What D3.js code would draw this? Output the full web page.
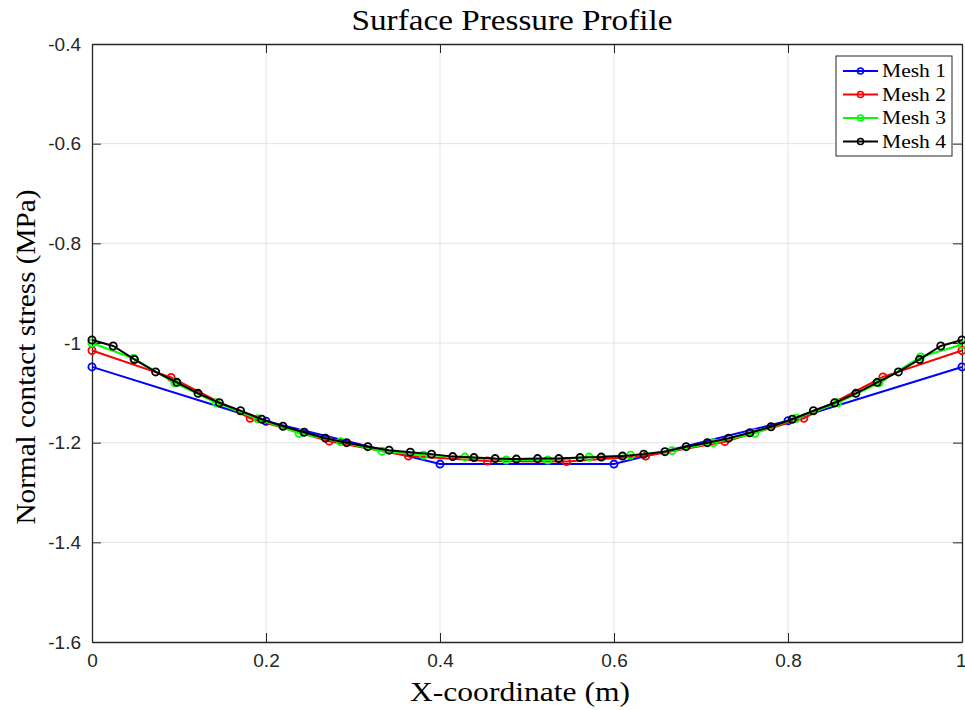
<!DOCTYPE html>
<html>
<head>
<meta charset="utf-8">
<script src="https://cdn.jsdelivr.net/npm/d3@7"></script>
<style>
  body { margin: 0; background: #fff; }
  svg { display: block; }
</style>
</head>
<body>
<script>
// values (MPa); x positions are evenly spaced nodes
var mesh1 = [-1.048, -1.157, -1.243, -1.243, -1.156, -1.048];
var mesh2 = [-1.015, -1.069, -1.151, -1.197, -1.227, -1.237,
             -1.238, -1.227, -1.198, -1.151, -1.068, -1.015];
var mesh3 = [-1.000, -1.031, -1.080, -1.120, -1.152, -1.181, -1.198, -1.217,
             -1.225, -1.229, -1.235, -1.235, -1.229, -1.225, -1.216, -1.200,
             -1.181, -1.151, -1.120, -1.080, -1.028, -1.003];
var mesh4 = [-0.994, -1.006, -1.033, -1.058, -1.079, -1.101, -1.120, -1.136,
             -1.153, -1.167, -1.179, -1.191, -1.200, -1.208, -1.215, -1.219,
             -1.223, -1.228, -1.230, -1.232, -1.233, -1.232, -1.232, -1.230,
             -1.229, -1.227, -1.223, -1.218, -1.208, -1.200, -1.191, -1.180,
             -1.168, -1.153, -1.136, -1.120, -1.101, -1.079, -1.058, -1.033,
             -1.006, -0.994];
var seriesNames = ["Mesh 1", "Mesh 2", "Mesh 3", "Mesh 4"];
var seriesColors = ["#0000ff", "#ff0000", "#00ff00", "#000000"];
var xTicks = [0, 0.2, 0.4, 0.6, 0.8, 1];
var yTicks = [-1.6, -1.4, -1.2, -1, -0.8, -0.6, -0.4];

var width = 965, height = 710;
var margin = {left: 92, right: 3, top: 44, bottom: 68};
var w = width - margin.left - margin.right;
var h = height - margin.top - margin.bottom;

var svg = d3.select("body").append("svg").attr("width", width).attr("height", height);
var g = svg.append("g").attr("transform", "translate(" + margin.left + "," + margin.top + ")");

var x = d3.scaleLinear().domain([0, 1]).range([0, w]);
var y = d3.scaleLinear().domain([-1.6, -0.4]).range([h, 0]);

// grid
g.append("g").selectAll("line").data(xTicks.slice(1, -1)).enter().append("line")
  .attr("x1", function(d){ return x(d); }).attr("x2", function(d){ return x(d); })
  .attr("y1", 0).attr("y2", h)
  .attr("stroke", "#e3e3e3").attr("stroke-width", 1);
g.append("g").selectAll("line").data(yTicks.slice(1, -1)).enter().append("line")
  .attr("y1", function(d){ return y(d); }).attr("y2", function(d){ return y(d); })
  .attr("x1", 0).attr("x2", w)
  .attr("stroke", "#e3e3e3").attr("stroke-width", 1);

// axes (ticks inside, MATLAB style)
var fmt = function(d){ return d3.format("")(+d.toFixed(1)).replace("\u2212", "-"); };
var xAxis = g.append("g").attr("transform", "translate(0," + h + ")")
  .call(d3.axisBottom(x).tickValues(xTicks).tickSizeInner(-9).tickSizeOuter(0).tickPadding(12).tickFormat(fmt));
var xAxisTop = g.append("g")
  .call(d3.axisTop(x).tickValues(xTicks).tickSizeInner(-9).tickSizeOuter(0).tickFormat(""));
var yAxis = g.append("g")
  .call(d3.axisLeft(y).tickValues(yTicks).tickSizeInner(-9).tickSizeOuter(0).tickPadding(11).tickFormat(fmt));
var yAxisRight = g.append("g").attr("transform", "translate(" + w + ",0)")
  .call(d3.axisRight(y).tickValues(yTicks).tickSizeInner(-9).tickSizeOuter(0).tickFormat(""));

[xAxis, xAxisTop, yAxis, yAxisRight].forEach(function(a){
  a.select(".domain").attr("stroke", "#262626").attr("stroke-width", 1.3);
  a.selectAll(".tick line").attr("stroke", "#262626").attr("stroke-width", 1);
  a.selectAll(".tick text").attr("fill", "#262626")
    .style("font-family", "'Liberation Sans', Arial, sans-serif").style("font-size", "19px");
});
// keep the last x label inside the window, as in the reference
xAxis.selectAll(".tick text").filter(function(d){ return d === 1; }).attr("text-anchor", "end").attr("dx", "4");

// series
var allSeries = [mesh1, mesh2, mesh3, mesh4].map(function(vals, i){
  var n = vals.length - 1;
  return {
    name: seriesNames[i],
    color: seriesColors[i],
    points: vals.map(function(v, j){ return {x: j / n, y: v}; })
  };
});

var line = d3.line().x(function(d){ return x(d.x); }).y(function(d){ return y(d.y); });

var sg = g.selectAll(".series").data(allSeries).enter().append("g").attr("class", "series");
sg.append("path")
  .attr("d", function(d){ return line(d.points); })
  .attr("fill", "none")
  .attr("stroke", function(d){ return d.color; })
  .attr("stroke-width", 2);
sg.selectAll("circle").data(function(d){ return d.points.map(function(p){ return {p: p, c: d.color}; }); })
  .enter().append("circle")
  .attr("cx", function(d){ return x(d.p.x); })
  .attr("cy", function(d){ return y(d.p.y); })
  .attr("r", 3.6)
  .attr("fill", "none")
  .attr("stroke", function(d){ return d.c; })
  .attr("stroke-width", 1.8);

// legend
var lg = svg.append("g").attr("transform", "translate(836,56)");
lg.append("rect").attr("width", 116).attr("height", 100)
  .attr("fill", "#fff").attr("stroke", "#262626").attr("stroke-width", 1);
var li = lg.selectAll(".li").data(allSeries).enter().append("g")
  .attr("transform", function(d, i){ return "translate(0," + (15 + i * 23.5) + ")"; });
li.append("line").attr("x1", 7).attr("x2", 42).attr("y1", 0).attr("y2", 0)
  .attr("stroke", function(d){ return d.color; }).attr("stroke-width", 2);
li.append("circle").attr("cx", 24.5).attr("cy", 0).attr("r", 3)
  .attr("fill", "none").attr("stroke", function(d){ return d.color; }).attr("stroke-width", 1.6);
li.append("text").attr("x", 46).attr("y", 6).text(function(d){ return d.name; })
  .attr("textLength", 64).attr("lengthAdjust", "spacingAndGlyphs")
  .style("font-family", "'Liberation Serif', 'DejaVu Serif', serif").style("font-size", "19px")
  .attr("fill", "#000");

// title and labels
var serif = "'Liberation Serif', 'DejaVu Serif', serif";
svg.append("text").attr("x", 512).attr("y", 30)
  .attr("text-anchor", "middle").style("font-family", serif).style("font-size", "30px")
  .attr("textLength", 321).attr("lengthAdjust", "spacingAndGlyphs")
  .text("Surface Pressure Profile");
svg.append("text").attr("x", 520).attr("y", 701)
  .attr("text-anchor", "middle").style("font-family", serif).style("font-size", "28px")
  .attr("textLength", 220).attr("lengthAdjust", "spacingAndGlyphs")
  .text("X-coordinate (m)");
svg.append("text").attr("transform", "translate(35,357) rotate(-90)")
  .attr("text-anchor", "middle").style("font-family", serif).style("font-size", "28px")
  .attr("textLength", 335).attr("lengthAdjust", "spacingAndGlyphs")
  .text("Normal contact stress (MPa)");
</script>
</body>
</html>
